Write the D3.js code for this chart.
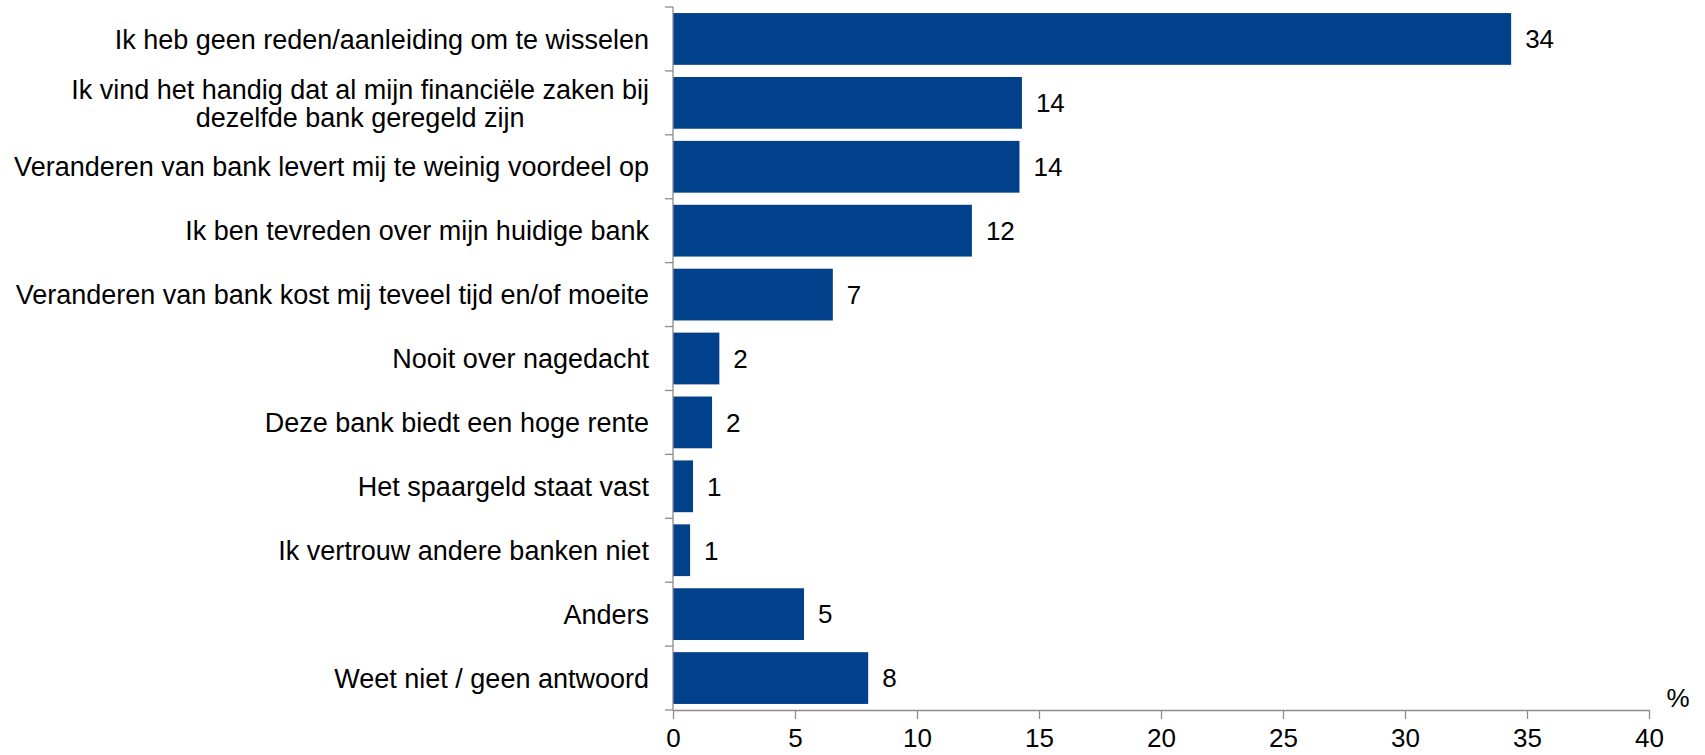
<!DOCTYPE html>
<html>
<head>
<meta charset="utf-8">
<style>
  body { margin: 0; background: #fff; }
  text { font-family: "Liberation Sans", Arial, sans-serif; fill: #000; }
</style>
</head>
<body>
<svg id="chart"></svg>
<script src="https://cdn.jsdelivr.net/npm/d3@7/dist/d3.min.js"></script>
<script>
// data
var categories = [
  "Ik heb geen reden/aanleiding om te wisselen",
  "Ik vind het handig dat al mijn financiële zaken bij\ndezelfde bank geregeld zijn",
  "Veranderen van bank levert mij te weinig voordeel op",
  "Ik ben tevreden over mijn huidige bank",
  "Veranderen van bank kost mij teveel tijd en/of moeite",
  "Nooit over nagedacht",
  "Deze bank biedt een hoge rente",
  "Het spaargeld staat vast",
  "Ik vertrouw andere banken niet",
  "Anders",
  "Weet niet / geen antwoord"
];
var values = [34.35, 14.3, 14.2, 12.25, 6.55, 1.9, 1.6, 0.82, 0.7, 5.37, 8.0];
var valueLabels = ["34", "14", "14", "12", "7", "2", "2", "1", "1", "5", "8"];
var xTicks = [0, 5, 10, 15, 20, 25, 30, 35, 40];

var W = 1705, H = 755;
var mLeft = 673, mRight = 1649, mTop = 7, mBottom = 710;
var labelFont = 27, numFont = 26;

var svg = d3.select("#chart").attr("width", W).attr("height", H);

var x = d3.scaleLinear().domain([0, 40]).range([mLeft, mRight]);
var y = d3.scaleBand().domain(categories).range([mTop, mBottom])
  .paddingInner(0.19).paddingOuter(0.095);

// bars
svg.selectAll("rect.bar").data(values).enter().append("rect")
  .attr("class", "bar")
  .attr("x", x(0))
  .attr("y", function(d, i){ return y(categories[i]); })
  .attr("width", function(d){ return x(d) - x(0); })
  .attr("height", y.bandwidth())
  .attr("fill", "#01408a");

// value labels
svg.selectAll("text.val").data(values).enter().append("text")
  .attr("class", "val")
  .attr("x", function(d){ return x(d) + 14; })
  .attr("y", function(d, i){ return y(categories[i]) + y.bandwidth()/2; })
  .attr("dy", "0.36em")
  .style("font-size", numFont + "px")
  .text(function(d, i){ return valueLabels[i]; });

// x axis
var xAxis = d3.axisBottom(x).tickValues(xTicks).tickSize(9).tickSizeOuter(0).tickPadding(10);
var gx = svg.append("g").attr("transform", "translate(0," + mBottom + ")").call(xAxis);
gx.selectAll("path, line").attr("stroke", "#8c8c8c").attr("stroke-width", 1.3);
gx.selectAll("text").style("font-size", numFont + "px").attr("fill", "#000")
  .style("font-family", '"Liberation Sans", Arial, sans-serif');

// y axis line + boundary ticks
var step = y.step();
svg.append("line").attr("x1", mLeft).attr("x2", mLeft).attr("y1", mTop).attr("y2", mBottom)
  .attr("stroke", "#8c8c8c").attr("stroke-width", 1.3);
svg.selectAll("line.ytick").data(d3.range(categories.length + 1)).enter().append("line")
  .attr("class", "ytick")
  .attr("x1", mLeft - 8).attr("x2", mLeft)
  .attr("y1", function(i){ return mTop + i * step; })
  .attr("y2", function(i){ return mTop + i * step; })
  .attr("stroke", "#8c8c8c").attr("stroke-width", 1.3);

// category labels, right aligned block, lines centred
var labelRight = 649;
categories.forEach(function(c, i){
  var lines = c.split("\n");
  var t = svg.append("text").style("font-size", labelFont + "px").attr("text-anchor", "middle");
  var cy = y(c) + y.bandwidth()/2;
  var lh = 28;
  lines.forEach(function(l, j){
    t.append("tspan").text(l)
      .attr("y", cy + (j - (lines.length - 1)/2) * lh)
      .attr("dy", "0.36em");
  });
  var w = d3.max(t.selectAll("tspan").nodes(), function(n){ return n.getComputedTextLength(); });
  t.selectAll("tspan").attr("x", labelRight - w/2);
});

// unit
svg.append("text").attr("x", 1678).attr("y", 698).attr("dy", "0.36em")
  .attr("text-anchor", "middle").style("font-size", numFont + "px").text("%");
</script>
</body>
</html>
